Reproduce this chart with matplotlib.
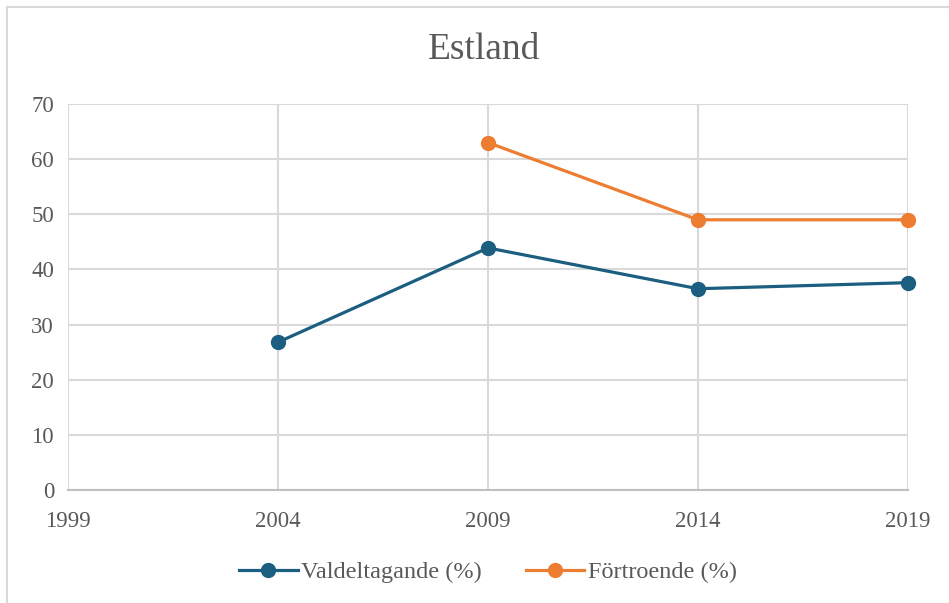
import matplotlib.pyplot as plt
from matplotlib.lines import Line2D

plt.rcParams['font.family'] = ['Liberation Serif', 'DejaVu Serif']

# data
ar_valdeltagande = [2004, 2009, 2014, 2019]
valdeltagande = [26.8, 43.9, 36.5, 37.6]
ar_fortroende = [2009, 2014, 2019]
fortroende = [63, 49, 49]

x_ticks = [1999, 2004, 2009, 2014, 2019]
y_ticks = [0, 10, 20, 30, 40, 50, 60, 70]

blue = '#1B5E80'
orange = '#ED7D31'
grid_col = '#D9D9D9'
text_col = '#595959'

fig = plt.figure(figsize=(9.49, 6.03), dpi=100)
ax = fig.add_axes([68 / 949, 1 - 490 / 603, 840 / 949, 386 / 603])

ax.plot(ar_valdeltagande, valdeltagande, color=blue, lw=2.3, marker='o',
        markersize=10, label='Valdeltagande (%)', zorder=3, clip_on=False)
ax.plot(ar_fortroende, fortroende, color=orange, lw=2.3, marker='o',
        markersize=10, label='Förtroende (%)', zorder=3, clip_on=False)

ax.set_xlim(1999, 2019)
ax.set_ylim(0, 70)
ax.set_xticks(x_ticks)
ax.set_yticks(y_ticks)
ax.grid(True, color=grid_col, lw=1.5, zorder=0)
ax.tick_params(length=0, labelsize=16.5, colors=text_col, pad=10)
ax.tick_params(axis='x', pad=15)
for side in ['top', 'right', 'left']:
    ax.spines[side].set_visible(False)
ax.spines['bottom'].set_color('#BFBFBF')
ax.spines['bottom'].set_linewidth(1.5)

fig.text(484 / 949, 1 - 50 / 603, 'Estland', ha='center', va='center',
         fontsize=27, color=text_col)

ax.legend(loc='center', bbox_to_anchor=(488 / 949, 1 - 572 / 603),
          bbox_transform=fig.transFigure, ncol=2, frameon=False,
          fontsize=17.5, labelcolor=text_col, handlelength=2.4,
          columnspacing=1.8, handletextpad=0.15)

# chart border (only top and left visible)
fig.add_artist(Line2D([6.5 / 949, 6.5 / 949], [0, 1 - 7 / 603],
                      transform=fig.transFigure, color=grid_col, lw=1.5))
fig.add_artist(Line2D([6.5 / 949, 1], [1 - 7 / 603, 1 - 7 / 603],
                      transform=fig.transFigure, color=grid_col, lw=1.5))

fig.savefig('out.png', dpi=100)
